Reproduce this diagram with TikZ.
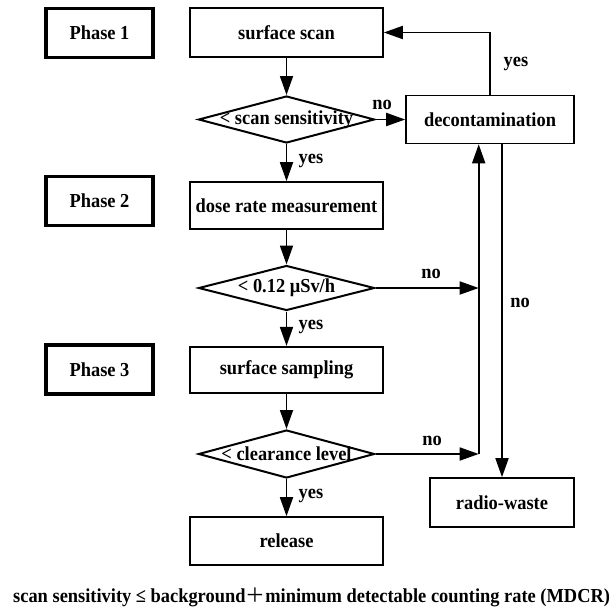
\documentclass[tikz,border=0pt]{standalone}
\usepackage{fontspec}
\setmainfont{Liberation Serif}[FakeStretch=0.93]
\newfontfamily\cjk{Noto Sans CJK SC}
\usetikzlibrary{shapes.geometric,arrows.meta}
\tikzset{
  every node/.style={font=\fontsize{19.8}{21}\selectfont\bfseries},
  procbox/.style={draw, line width=1.6pt, minimum width=193pt, minimum height=48pt, inner sep=0pt},
  phasebox/.style={draw, line width=3.3pt, minimum width=107pt, minimum height=49pt, inner sep=0pt},
  decision/.style={draw, diamond, line width=2pt, minimum width=176pt, minimum height=46pt, inner sep=0pt},
  lab/.style={inner sep=0pt},
  arr/.style={-{Triangle[length=19pt,width=13pt]}, line width=1.8pt}
}
\begin{document}
\begin{tikzpicture}[x=1pt,y=-1pt]
\useasboundingbox (0,0) rectangle (613,608);
% phase labels
\node[phasebox] (p1) at (99.5,33) {Phase 1};
\node[phasebox] (p2) at (99.5,201) {Phase 2};
\node[phasebox] (p3) at (99.5,369.5) {Phase 3};
% main column
\node[procbox, minimum height=49pt] (ss) at (286.5,32.5) {surface scan};
\node[decision, minimum height=47pt] (d1) at (286.5,119.5) {\makebox[0pt]{< scan sensitivity}};
\node[procbox, minimum height=47pt] (dr) at (286.5,205.5) {dose rate measurement};
\node[decision, minimum height=45pt] (d2) at (286.5,288) {\makebox[0pt]{< 0.12 μSv/h}};
\node[procbox, minimum height=46pt] (sp) at (286.5,369.7) {surface sampling};
\node[decision, minimum height=48pt] (d3) at (286.5,454) {\makebox[0pt]{< clearance level}};
\node[procbox] (rel) at (286.5,541) {release};
% right column
\node[procbox, minimum width=168pt] (dec) at (490,119.5) {decontamination};
\node[procbox, minimum width=144pt, minimum height=49pt] (rw) at (502,502.5) {radio-waste};
\coordinate (c2) at (478.7,288);
\coordinate (c3) at (478.7,454);
% connectors
\draw[arr] (ss.south) -- (d1.north);
\draw[arr] (d1.east) -- (d1.east -| dec.west);
\draw[arr] (dec.north) |- (ss.east);
\draw[arr] (d1.south) -- (dr.north);
\draw[arr] (dr.south) -- (d2.north);
\draw[arr] (d2.east) -- (c2);
\draw[arr] (d2.south) -- (sp.north);
\draw[arr] (sp.south) -- (d3.north);
\draw[arr] (d3.south) -- (rel.north);
\draw[arr] (d3.east) -- (c3);
\draw[arr] (c3) -- (c3 |- dec.south);
\draw[arr] (dec.south -| rw.north) -- (rw.north);
% labels
\node[lab] (n1) at (382,105) {no};
\node[lab] (y0) at (516,64) {yes};
\node[lab] (y1) at (311,161) {yes};
\node[lab] (n2) at (431,274) {no};
\node[lab] (n4) at (520,303) {no};
\node[lab] (y2) at (311,327) {yes};
\node[lab] (n3) at (432,441) {no};
\node[lab] (y3) at (311,496) {yes};
% footnote
\node[lab, anchor=base west] (fn) at (13,602) {scan sensitivity ≤ background{\cjk\mdseries ＋}minimum detectable counting rate (MDCR)};
\end{tikzpicture}
\end{document}
